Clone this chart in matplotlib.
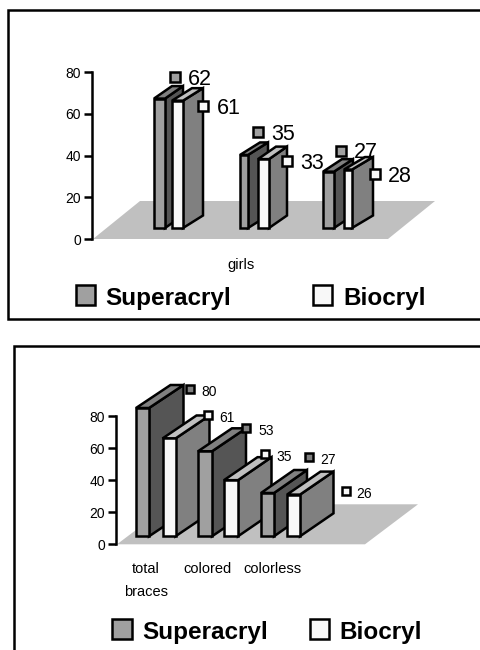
import matplotlib
matplotlib.use("Agg")
import matplotlib.pyplot as plt
from matplotlib.patches import Polygon, Rectangle

plt.rcParams['font.family'] = ['Liberation Sans', 'DejaVu Sans']

# ---- data ----
series_names = ["Superacryl", "Biocryl"]
yticks = [0, 20, 40, 60, 80]

top_categories = ["girls"]
top_super = [62, 35, 27]
top_bio = [61, 33, 28]

bottom_categories = ["total\nbraces", "colored", "colorless"]
bottom_super = [80, 53, 27]
bottom_bio = [61, 35, 26]

# ---- styles ----
W, H = 481, 650
LW = 1.8
FACE = {"s": ("#a0a0a0", "#555555", "#808080"),
        "b": ("#f8f8f8", "#808080", "#c0c0c0")}
FLOOR = "#c0c0c0"

fig = plt.figure(figsize=(W / 100, H / 100), dpi=100, facecolor="white")


def px_axes(left, right, y0, y80):
    ax = fig.add_axes([left / W, 1 - y0 / H, (right - left) / W, (y0 - y80) / H])
    ax.set_xlim(left, right)
    ax.set_ylim(0, 80)
    ax.patch.set_alpha(0)
    for s in ("top", "right", "bottom"):
        ax.spines[s].set_visible(False)
    ax.spines["left"].set_linewidth(LW)
    ax.spines["left"].set_zorder(50)
    ax.set_xticks([])
    ax.set_yticks(yticks)
    ax.tick_params(axis="y", length=6, width=LW, labelsize=10, pad=2, colors="black")
    return ax


def bar3d(ax, x0, x1, base, value, dx, dy, kind, z):
    front, side, top = FACE[kind]
    y1 = base + value
    kw = dict(ec="black", lw=LW, joinstyle="miter", zorder=z, clip_on=False)
    ax.add_patch(Polygon([(x1, base), (x1 + dx, base + dy), (x1 + dx, y1 + dy), (x1, y1)], fc=side, **kw))
    ax.add_patch(Polygon([(x0, y1), (x1, y1), (x1 + dx, y1 + dy), (x0 + dx, y1 + dy)], fc=top, **kw))
    ax.add_patch(Rectangle((x0, base), x1 - x0, value, fc=front, **kw))


def floor(ax, x0, x1, shift, dy):
    ax.add_patch(Polygon([(x0, 0), (x1, 0), (x1 + shift, dy), (x0 + shift, dy)],
                         fc=FLOOR, ec="none", zorder=1, clip_on=False))


# ---- top chart ----
ax1 = px_axes(92, 436, 239, 72)
u1 = 80 / 167
floor(ax1, 93, 388, 47, 38 * u1)
layout1 = [(154, 165, 183), (172, 183, 203), (240, 248, 268),
           (258, 269, 287), (323, 334, 353), (344, 352, 373)]
vals1 = [v for pair in zip(top_super, top_bio) for v in pair]
for i, ((a, b, c), v) in enumerate(zip(layout1, vals1)):
    bar3d(ax1, a, b, 11 * u1, v, c - b, 12.5 * u1, "sb"[i % 2], 5 + i)

# ---- bottom chart ----
ax2 = px_axes(116, 418, 544.3, 416)
u2 = 80 / 128.3
floor(ax2, 117, 365, 53, 40 * u2)
layout2 = [(136, 149, 183.5), (162.5, 175.5, 209.5), (198, 212, 246),
           (224, 238, 271.5), (261, 274, 307), (287, 300, 333.5)]
vals2 = [v for pair in zip(bottom_super, bottom_bio) for v in pair]
for i, ((a, b, c), v) in enumerate(zip(layout2, vals2)):
    bar3d(ax2, a, b, 8 * u2, v, c - b, 23 * u2, "sb"[i % 2], 5 + i)

# ---- overlay in pixel space: frames, keys, labels, legend ----
ov = fig.add_axes([0, 0, 1, 1], zorder=100)
ov.set_xlim(0, W)
ov.set_ylim(H, 0)
ov.axis("off")
ov.patch.set_alpha(0)

ov.plot([W + 5, 8, 8, W + 5], [10, 10, 318.5, 318.5], color="black", lw=LW, solid_joinstyle="miter")
ov.plot([14, 14, W + 5], [H + 5, 346, 346], color="black", lw=LW, solid_joinstyle="miter")

keys1 = [(175, 77, 188), (203.5, 106, 217), (258, 132, 271), (287, 161, 300), (341, 150.5, 354), (375.5, 174, 388)]
for i, ((mx, my, tx), v) in enumerate(zip(keys1, vals1)):
    ov.plot([mx], [my], "s", ms=6.5, mew=LW, mec="black", mfc=FACE["sb"[i % 2]][0])
    ov.text(tx, my, str(v), fontsize=15.5, ha="left", va="center_baseline")

keys2 = [(189.7, 389, 201, 390.7), (207.7, 415, 219, 416.7), (246.3, 428.3, 258, 429.7),
         (265, 454, 276.7, 455.7), (309.3, 457, 320.7, 458.7), (345.7, 490.7, 356.7, 492.7)]
for i, ((mx, my, tx, ty), v) in enumerate(zip(keys2, vals2)):
    ov.plot([mx], [my], "s", ms=6, mew=LW, mec="black", mfc=("#808080", "#f8f8f8")[i % 2])
    ov.text(tx, ty, str(v), fontsize=10, ha="left", va="center_baseline")

ov.text(241, 263, top_categories[0], fontsize=10.5, ha="center", va="center_baseline")
for cx, cat in zip((146, 208, 272.3), bottom_categories):
    for j, part in enumerate(cat.split("\n")):
        ov.text(cx, 567.7 + 23 * j, part, fontsize=10.5, ha="center", va="center_baseline")

legend_rows = [((76, 105), (313, 343), 285, 296), ((112.5, 142), (310, 339), 619, 630)]
for (s_pos, b_pos, sy, ty) in legend_rows:
    for (sx, tx), kind, name in zip((s_pos, b_pos), "sb", series_names):
        ov.add_patch(Rectangle((sx, sy), 19.5, 19.5, fc=FACE[kind][0], ec="black", lw=LW, joinstyle="miter"))
        ov.text(tx, ty, name, fontsize=17.5, fontweight="bold", ha="left", va="center_baseline")

fig.savefig("out.png", dpi=100, facecolor="white")
